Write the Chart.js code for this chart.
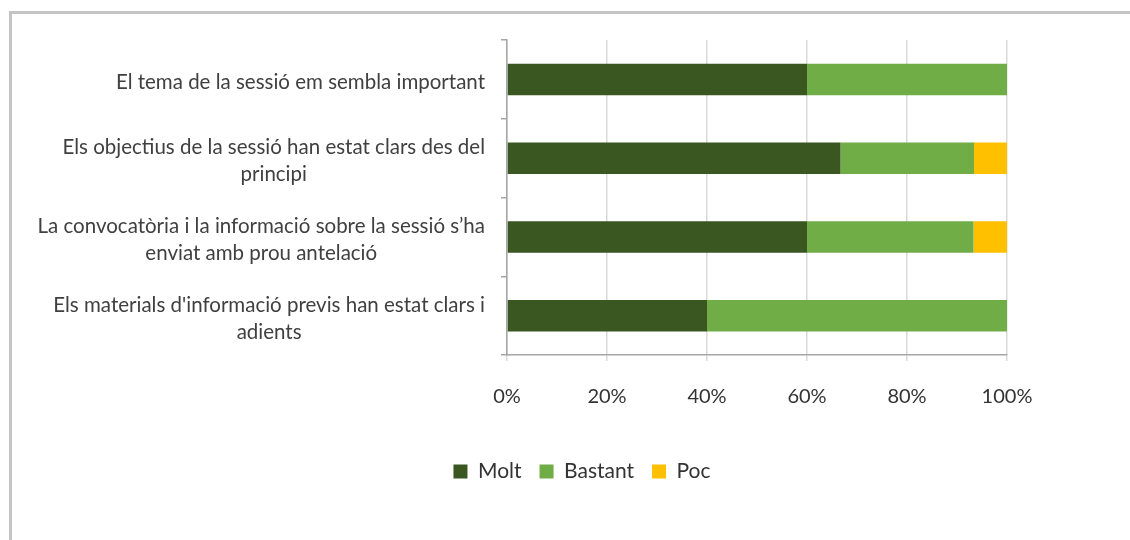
<!DOCTYPE html>
<html>
<head>
<meta charset="utf-8">
<script src="https://cdn.jsdelivr.net/npm/chart.js@4/dist/chart.umd.min.js"></script>
<style>
  html, body { margin: 0; padding: 0; background: #fff; overflow: hidden; width: 1130px; height: 540px; }
  #frame { position: absolute; left: 9px; top: 11px; width: 1140px; height: 540px; border-left: 3px solid #c4c4c4; border-top: 3px solid #c4c4c4; }
  #wrap { position: absolute; left: 0; top: 0; width: 1140px; height: 526px; }
</style>
</head>
<body>
<div id="frame"><div id="wrap"><canvas id="c"></canvas></div></div>
<script>
const categories = [
  ["El tema de la sessió em sembla important"],
  ["Els objectius de la sessió han estat clars des del", "principi"],
  ["La convocatòria i la informació sobre la sessió s’ha", "enviat amb prou antelació"],
  ["Els materials d'informació previs han estat clars i", "adients"]
];
const seriesNames = ["Molt", "Bastant", "Poc"];
const molt    = [60, 66.7, 60, 40];
const bastant = [40, 26.7, 33.3, 60];
const poc     = [0, 6.6, 6.7, 0];
const xTicks  = [0, 20, 40, 60, 80, 100];
const colors  = ["#3a5722", "#70ad47", "#ffc000"];

const FONT = "Lato, 'Open Sans', sans-serif";

const yLabelPlugin = {
  id: 'yLabels',
  afterDraw(chart) {
    const ctx = chart.ctx;
    const ys = chart.scales.y;
    const right = 473;
    const lh = 27;
    ctx.save();
    ctx.font = "20.5px " + FONT;
    ctx.fillStyle = "#404040";
    ctx.textAlign = "center";
    ctx.textBaseline = "middle";
    categories.forEach((lines, i) => {
      const yc = ys.getPixelForValue(i) + 3;
      let w = 0;
      lines.forEach(l => { w = Math.max(w, ctx.measureText(l).width); });
      const cx = right - w / 2;
      const y0 = yc - (lines.length - 1) * lh / 2;
      lines.forEach((l, k) => ctx.fillText(l, cx, y0 + k * lh));
    });
    ctx.restore();
  }
};

new Chart(document.getElementById('c'), {
  type: 'bar',
  data: {
    labels: categories.map(c => c.join(' ')),
    datasets: [
      { label: seriesNames[0], data: molt, backgroundColor: colors[0] },
      { label: seriesNames[1], data: bastant, backgroundColor: colors[1] },
      { label: seriesNames[2], data: poc, backgroundColor: colors[2] }
    ]
  },
  options: {
    indexAxis: 'y',
    responsive: true,
    maintainAspectRatio: false,
    animation: false,
    layout: { padding: { top: 26, right: 0, bottom: 48, left: 0 } },
    datasets: { bar: { barPercentage: 0.4, categoryPercentage: 1.0, borderWidth: 0 } },
    scales: {
      x: {
        stacked: true,
        min: 0, max: 100,
        afterBuildTicks(scale) { scale.ticks = xTicks.map(v => ({ value: v })); },
        afterFit(scale) { scale.height = 88; },
        ticks: {
          callback: v => v + '%',
          font: { family: FONT, size: 20 },
          color: '#333333',
          padding: 24,
          maxRotation: 0
        },
        grid: { color: '#d9d9d9', lineWidth: 1.5, tickLength: 6, tickColor: '#d9d9d9' },
        border: { color: '#a6a6a6', width: 1.5 }
      },
      y: {
        stacked: true,
        offset: true,
        afterFit(scale) { scale.width = 495; },
        ticks: { display: false },
        grid: { offset: true, drawOnChartArea: false, drawTicks: true, tickLength: 6, tickColor: '#a6a6a6', lineWidth: 1.5 },
        border: { color: '#a6a6a6', width: 1.5 }
      },
      yRight: {
        type: 'linear',
        position: 'right',
        display: true,
        afterFit(scale) { scale.width = 145; },
        ticks: { display: false },
        grid: { display: false, drawTicks: false },
        border: { display: false }
      }
    },
    plugins: {
      legend: {
        position: 'bottom',
        labels: {
          boxWidth: 14, boxHeight: 14, padding: 18,
          color: '#333333',
          font: { family: FONT, size: 21 }
        }
      },
      tooltip: { enabled: false },
      title: { display: false }
    }
  },
  plugins: [yLabelPlugin]
});
</script>
</body>
</html>
